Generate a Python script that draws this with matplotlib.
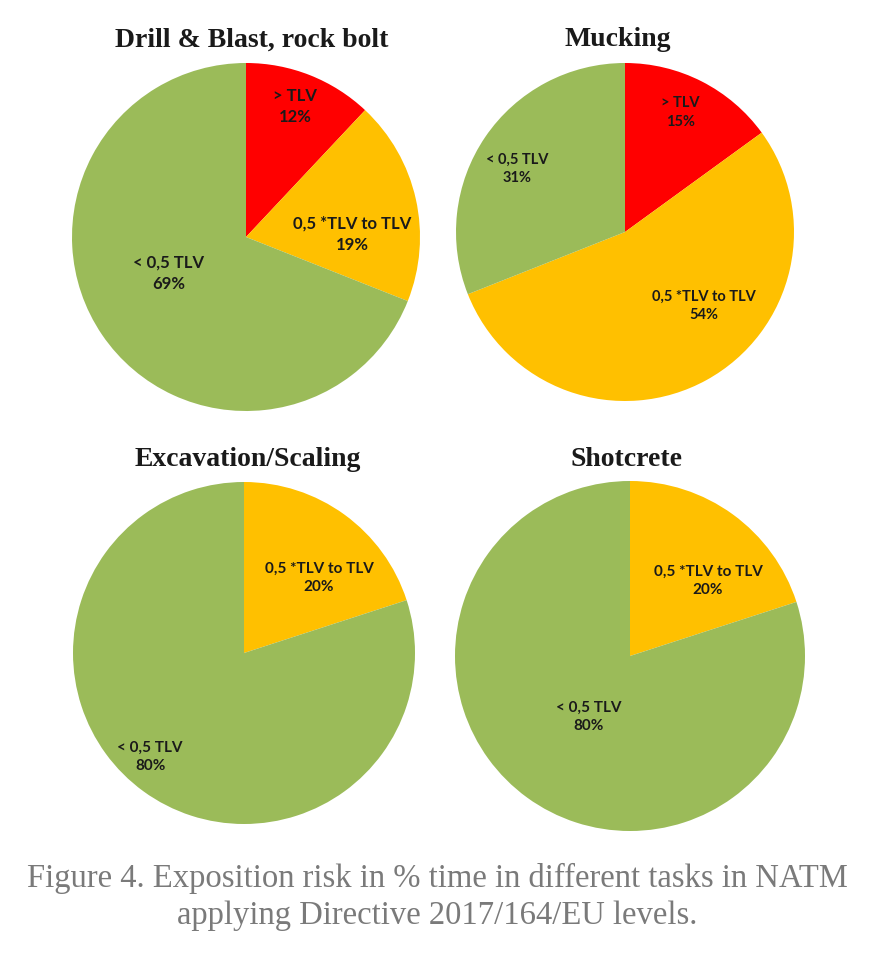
import numpy as np
import matplotlib
matplotlib.use("Agg")
import matplotlib.pyplot as plt

# --- data ---
TITLES = ["Drill & Blast, rock bolt", "Mucking", "Excavation/Scaling", "Shotcrete"]
LABELS = [
    ["> TLV", "0,5 *TLV to TLV", "< 0,5 TLV"],
    ["> TLV", "0,5 *TLV to TLV", "< 0,5 TLV"],
    ["0,5 *TLV to TLV", "< 0,5 TLV"],
    ["0,5 *TLV to TLV", "< 0,5 TLV"],
]
VALUES = [
    [12, 19, 69],
    [15, 54, 31],
    [20, 80],
    [20, 80],
]
COLORS = [
    ["#FF0000", "#FFC000", "#9BBB59"],
    ["#FF0000", "#FFC000", "#9BBB59"],
    ["#FFC000", "#9BBB59"],
    ["#FFC000", "#9BBB59"],
]
CAPTION = ("Figure 4. Exposition risk in % time in different tasks in NATM\n"
           "applying Directive 2017/164/EU levels.")

# --- layout (pixels) ---
W, H = 875, 968
# centre x, centre y, radius
PIES = [(246, 237, 174), (625, 232, 169), (244, 653, 171), (630, 656, 175)]
TITLE_Y = [40, 40, 459, 459]
TITLE_X = [252, 618, 248, 627]
LAB_SIZE = [12, 10.5, 11, 11]
# label radius (fraction) and angle nudge (deg) per slice
LAB_R = [[0.80, 0.61, 0.49], [0.78, 0.64, 0.74], [0.62, 0.82], [0.62, 0.42]]
LAB_DA = [[1, -11, -9], [2, 18, 4], [-9, -6], [-10, 2]]

fig = plt.figure(figsize=(W / 100, H / 100), dpi=100)
fig.patch.set_facecolor("white")

for i, (cx, cy, r) in enumerate(PIES):
    ax = fig.add_axes([(cx - r) / W, (H - cy - r) / H, 2 * r / W, 2 * r / H])
    wedges, _ = ax.pie(VALUES[i], colors=COLORS[i], startangle=90,
                       counterclock=False, wedgeprops=dict(linewidth=0))
    ax.set_xlim(-1, 1)
    ax.set_ylim(-1, 1)
    ax.axis("off")
    for j, w in enumerate(wedges):
        ang = np.deg2rad((w.theta1 + w.theta2) / 2 + LAB_DA[i][j])
        x = LAB_R[i][j] * np.cos(ang)
        y = LAB_R[i][j] * np.sin(ang)
        ax.text(x, y, f"{LABELS[i][j]}\n{VALUES[i][j]}%", ha="center", va="center",
                fontsize=LAB_SIZE[i], family="Lato", fontweight="bold", color="#1a1a1a",
                linespacing=1.4)
    fig.text(TITLE_X[i] / W, 1 - TITLE_Y[i] / H, TITLES[i], ha="center", va="center",
             fontsize=20, family="Liberation Serif", fontweight="bold", color="#1a1a1a")

fig.text(0.5, 1 - 897 / H, CAPTION, ha="center", va="center", fontsize=23.5,
         family="Liberation Serif", color="#7a7a7a", linespacing=1.3)

fig.savefig("out.png", dpi=100)
